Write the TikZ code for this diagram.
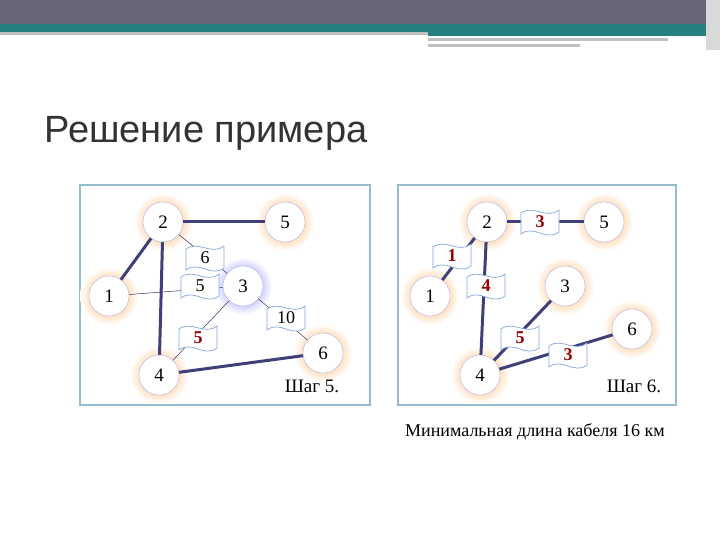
\documentclass[tikz,border=0pt]{standalone}
\usepackage{fontspec}
\setmainfont{Liberation Serif}
\newfontfamily\titlefont{Liberation Sans}
\begin{document}
\begin{tikzpicture}[x=1pt,y=-1pt,
  vert/.style={circle,minimum size=40pt,inner sep=0pt,fill=white,draw=gray!50!blue!40,font=\fontsize{19}{19}\selectfont},
  thick edge/.style={line width=3pt,draw=blue!30!black!75},
  thin edge/.style={line width=0.5pt,draw=blue!20!black!80},
  flagn/.style={minimum width=38pt,minimum height=22pt,inner sep=0pt,font=\fontsize{18}{18}\selectfont},
  redn/.style={flagn,font=\fontsize{18}{18}\selectfont\bfseries,text=red!60!black},
  panel/.style={draw=cyan!40!gray!70,line width=1.4pt}]
\useasboundingbox (0,0) rectangle (720,540);
\fill[white] (0,0) rectangle (720,540);
% top bar
\fill[black!65!blue!20!gray] (0,0) rectangle (706,24);
\fill[teal!70!gray] (0,24) rectangle (706,32);
\fill[gray!50] (0,32) rectangle (428,35);
\fill[teal!70!gray] (428,32) rectangle (706,36);
\fill[gray!50] (428,38) rectangle (668,41);
\fill[gray!50] (428,44) rectangle (580,47);
\fill[gray!30] (706,0) rectangle (720,50);
\node[anchor=west,font=\titlefont\fontsize{38}{38}\selectfont,text=black!80] (title) at (41,133) {Решение примера};
\node[panel,minimum width=290pt,minimum height=220pt] (p1) at (225,295) {};
\node[panel,minimum width=278pt,minimum height=220pt] (p2) at (537,295) {};
\newcommand\halo[2]{\shade[inner color=#2,outer color=white] (#1) circle (29);}
\newcommand\flagshape[1]{\draw[draw=cyan!50!blue!50,fill=white,line width=0.7pt]
 ([shift={(-19,-9)}]#1) .. controls ([shift={(-6,-18)}]#1) and ([shift={(6,-2)}]#1) .. ([shift={(19,-12)}]#1)
 -- ([shift={(19,10)}]#1) .. controls ([shift={(6,20)}]#1) and ([shift={(-6,2)}]#1) .. ([shift={(-19,12)}]#1) -- cycle;}
% ---- left
\foreach \p in {{163,222},{285,222},{109,296},{159,375},{323,353}} {\halo{\p}{orange!75}}
\halo{243,286}{blue!55}
\node[vert] (a2) at (163,222) {2};
\node[vert] (a5) at (285,222) {5};
\node[vert] (a1) at (109,296) {1};
\node[vert] (a3) at (243,286) {3};
\node[vert] (a4) at (159,375) {4};
\node[vert] (a6) at (323,353) {6};
\draw[thick edge] (a2)--(a5); \draw[thick edge] (a2)--(a1);
\draw[thick edge] (a2)--(a4); \draw[thick edge] (a4)--(a6);
\draw[thin edge] (a2)--(a3); \draw[thin edge] (a1)--(a3);
\draw[thin edge] (a3)--(a4); \draw[thin edge] (a3)--(a6);
\flagshape{205,258}\node[flagn] (f6) at (205,258) {6};
\flagshape{200,286}\node[flagn] (f5) at (200,286) {5};
\flagshape{198,338}\node[redn] (f5r) at (198,338) {5};
\flagshape{286,318}\node[flagn] (f10) at (286,318) {10};
\node[font=\fontsize{19}{19}\selectfont] (s5) at (312,386) {Шаг 5.};
% ---- right
\foreach \p in {{487,222},{604,222},{430,296},{565,286},{480,375},{632,329}} {\halo{\p}{orange!75}}
\node[vert] (b2) at (487,222) {2};
\node[vert] (b5) at (604,222) {5};
\node[vert] (b1) at (430,296) {1};
\node[vert] (b3) at (565,286) {3};
\node[vert] (b4) at (480,375) {4};
\node[vert] (b6) at (632,329) {6};
\draw[thick edge] (b2)--(b5); \draw[thick edge] (b2)--(b1);
\draw[thick edge] (b2)--(b4); \draw[thick edge] (b4)--(b3);
\draw[thick edge] (b4)--(b6);
\flagshape{540,222}\node[redn] (g3) at (540,222) {3};
\flagshape{452,256}\node[redn] (g1) at (452,256) {1};
\flagshape{486,286}\node[redn] (g4) at (486,286) {4};
\flagshape{520,338}\node[redn] (g5) at (520,338) {5};
\flagshape{568,355}\node[redn] (g3b) at (568,355) {3};
\node[font=\fontsize{19}{19}\selectfont] (s6) at (634,386) {Шаг 6.};
\node[font=\fontsize{18}{18}\selectfont] (cap) at (535,432) {Минимальная длина кабеля 16 км};
\end{tikzpicture}
\end{document}
